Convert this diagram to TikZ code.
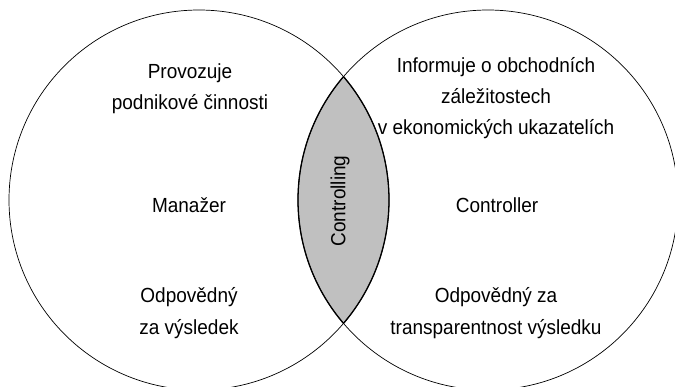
\documentclass[tikz,border=0pt]{standalone}
\usepackage{fontspec}
\setmainfont{Liberation Sans}[FakeStretch=0.93]
\definecolor{lensgray}{RGB}{192,192,192}
\begin{document}
\begin{tikzpicture}[x=1bp,y=-1bp,
  ring/.style={draw=black, line width=0.7bp},
  lensedge/.style={draw=black, line width=1.3bp},
  lbl/.style={align=center, inner sep=0pt, font=\fontsize{20.5}{31.5}\selectfont}]
\useasboundingbox (0,0) rectangle (675,386);
\coordinate (L) at (199,200);
\coordinate (R) at (488,200);
% lens fill
\begin{scope}
  \clip (L) circle[radius=190bp];
  \fill[lensgray] (R) circle[radius=190bp];
\end{scope}
% circles
\draw[ring] (L) circle[radius=190bp];
\draw[ring] (R) circle[radius=190bp];
% lens outline
\begin{scope}
  \clip (L) circle[radius=190bp];
  \draw[lensedge] (R) circle[radius=190bp];
\end{scope}
\begin{scope}
  \clip (R) circle[radius=190bp];
  \draw[lensedge] (L) circle[radius=190bp];
\end{scope}
% texts
\node[lbl] (lt) at (190,89) {Provozuje\\podnikové činnosti};
\node[lbl] (lm) at (189,205) {Manažer};
\node[lbl] (lb) at (189,313) {Odpovědný\\za výsledek};
\node[lbl] (rt) at (496,98) {Informuje o obchodních\\záležitostech\\v ekonomických ukazatelích};
\node[lbl] (rm) at (497,205) {Controller};
\node[lbl] (rb) at (496,313) {Odpovědný za\\transparentnost výsledku};
\node[lbl, rotate=90] (c) at (340,201) {Controlling};
\end{tikzpicture}
\end{document}
